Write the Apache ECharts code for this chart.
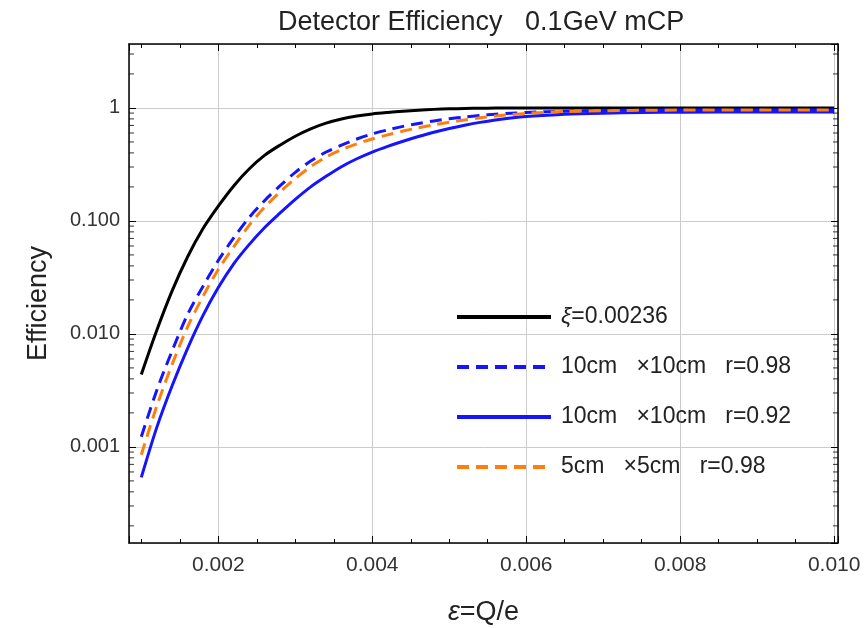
<!DOCTYPE html>
<html>
<head>
<meta charset="utf-8">
<title>Detector Efficiency</title>
<script src="https://cdn.jsdelivr.net/npm/echarts@6/dist/echarts.min.js"></script>
<style>
  html, body { margin: 0; padding: 0; background: #fff; }
  #chart { width: 867px; height: 628px; }
</style>
</head>
<body>
<div id="chart"></div>
<script>
  // epsilon = Q/e
  const epsilon = [0.0010, 0.0012, 0.0014, 0.0016, 0.0018, 0.0020, 0.0022, 0.0024, 0.0026, 0.0028,
    0.0030, 0.0032, 0.0034, 0.0036, 0.0038, 0.0040, 0.0042, 0.0044, 0.0046, 0.0048,
    0.0050, 0.0052, 0.0054, 0.0056, 0.0058, 0.0060,
    0.0065, 0.0070, 0.0075, 0.0080, 0.0090, 0.0100]

  // efficiency
  const effXi = [0.00437, 0.0107, 0.0240, 0.0479, 0.0851, 0.135, 0.204, 0.288, 0.380, 0.468,
    0.562, 0.653, 0.733, 0.798, 0.847, 0.885, 0.912, 0.935, 0.955, 0.971,
    0.982, 0.989, 0.993, 0.997, 0.999, 1.0,
    1.0, 1.0, 1.0, 1.0, 1.0, 1.0]
  const eff10r98 = [0.00123, 0.00316, 0.00708, 0.0148, 0.0263, 0.0447, 0.0708, 0.107, 0.151, 0.204,
    0.269, 0.339, 0.407, 0.468, 0.531, 0.589, 0.638, 0.687, 0.729, 0.767,
    0.802, 0.832, 0.857, 0.879, 0.897, 0.912,
    0.935, 0.948, 0.955, 0.957, 0.959, 0.959]
  const eff10r92 = [0.000537, 0.00148, 0.00347, 0.00741, 0.0145, 0.0257, 0.0417, 0.0617, 0.0871, 0.117,
    0.155, 0.200, 0.248, 0.302, 0.355, 0.407, 0.457, 0.507, 0.558, 0.610,
    0.658, 0.703, 0.745, 0.782, 0.813, 0.838,
    0.879, 0.899, 0.910, 0.916, 0.920, 0.920]
  const eff5r98 = [0.000851, 0.00229, 0.00537, 0.0115, 0.0214, 0.0372, 0.0589, 0.0912, 0.132, 0.180,
    0.237, 0.302, 0.367, 0.427, 0.481, 0.531, 0.578, 0.624, 0.667, 0.708,
    0.746, 0.783, 0.817, 0.847, 0.873, 0.895,
    0.929, 0.944, 0.953, 0.957, 0.959, 0.959]

  const seriesNames = ['ξ=0.00236', '10cm   ×10cm   r=0.98', '10cm   ×10cm   r=0.92', '5cm   ×5cm   r=0.98']

  // log minor ticks (2..9 x 10^k) for the left and right frame
  const minorTicksY = [0.0002, 0.0003, 0.0004, 0.0005, 0.0006, 0.0007, 0.0008, 0.0009,
    0.002, 0.003, 0.004, 0.005, 0.006, 0.007, 0.008, 0.009,
    0.02, 0.03, 0.04, 0.05, 0.06, 0.07, 0.08, 0.09,
    0.2, 0.3, 0.4, 0.5, 0.6, 0.7, 0.8, 0.9,
    2, 3]

  const xMin = 0.00084
  const xMax = 0.01005
  const yMin = 0.000141
  const yMax = 3.68

  const font = 'Liberation Sans, Arial, sans-serif'
  const textColor = '#222'

  function pairs(ys) {
    return epsilon.map((x, i) => [x, ys[i]])
  }

  function isDecade(v) {
    const l = Math.log10(v)
    return Math.abs(l - Math.round(l)) < 1e-6
  }

  // shared frame settings, ticks drawn inside like the original
  const frameX = {
    type: 'value',
    min: xMin,
    max: xMax,
    splitNumber: 5,
    axisLine: { show: true, onZero: false, lineStyle: { color: '#000', width: 1.5 } },
    axisTick: { show: true, inside: true, length: 7, lineStyle: { color: '#000' } },
    minorTick: { show: true, splitNumber: 4, length: 4, lineStyle: { color: '#000' } }
  }
  const frameY = {
    type: 'log',
    logBase: 10,
    min: yMin,
    max: yMax,
    splitNumber: 5,
    axisLine: { show: true, onZero: false, lineStyle: { color: '#000', width: 1.5 } },
    axisTick: { show: true, inside: true, length: 7, lineStyle: { color: '#000' } }
  }

  // short horizontal dash used as a minor tick mark
  function minorTickSeries(x, offset) {
    return {
      type: 'scatter',
      silent: true,
      clip: false,
      symbol: 'rect',
      symbolSize: [5, 1],
      symbolOffset: [offset, 0],
      itemStyle: { color: '#000' },
      data: minorTicksY.map(v => [x, v]),
      z: 3
    }
  }

  const chart = echarts.init(document.getElementById('chart'))

  chart.setOption({
    animation: false,
    backgroundColor: '#fff',
    title: {
      text: 'Detector Efficiency   0.1GeV mCP',
      left: 273,
      top: 4,
      textStyle: { fontFamily: font, fontSize: 27, fontWeight: 'normal', color: textColor }
    },
    legend: {
      orient: 'vertical',
      left: 450,
      top: 299,
      itemWidth: 94,
      itemHeight: 14,
      itemGap: 24,
      data: seriesNames,
      itemStyle: { opacity: 0 },
      lineStyle: { width: 4 },
      formatter: function (name) {
        return name.charAt(0) === 'ξ' ? '{i|ξ}' + name.slice(1) : name
      },
      textStyle: {
        fontFamily: font,
        fontSize: 23,
        color: textColor,
        lineHeight: 26,
        padding: [0, 0, 0, 5],
        rich: { i: { fontStyle: 'italic', fontFamily: font, fontSize: 23, color: textColor } }
      }
    },
    grid: {
      left: 129,
      right: 29,
      top: 44,
      bottom: 85,
      containLabel: false,
      outerBoundsMode: 'none'
    },
    xAxis: [
      Object.assign({}, frameX, {
        position: 'bottom',
        name: '{i|ε}=Q/e',
        nameLocation: 'middle',
        nameGap: 56,
        nameTextStyle: {
          fontFamily: font, fontSize: 27, color: textColor,
          rich: { i: { fontStyle: 'italic', fontFamily: font, fontSize: 27, color: textColor } }
        },
        axisLabel: {
          margin: 12,
          showMinLabel: false,
          showMaxLabel: false,
          fontFamily: font,
          fontSize: 21,
          color: '#333',
          formatter: function (v) { return v.toFixed(3) }
        },
        splitLine: { show: true, lineStyle: { color: '#ccc', width: 1 } }
      }),
      Object.assign({}, frameX, {
        position: 'top',
        axisLabel: { show: false },
        splitLine: { show: false }
      })
    ],
    yAxis: [
      Object.assign({}, frameY, {
        position: 'left',
        name: 'Efficiency',
        nameLocation: 'middle',
        nameGap: 77,
        nameTextStyle: { fontFamily: font, fontSize: 27, color: textColor, padding: [0, 20, 0, 0] },
        axisLabel: {
          margin: 9,
          showMinLabel: false,
          showMaxLabel: false,
          fontFamily: font,
          fontSize: 20,
          color: '#333',
          formatter: function (v) {
            if (!isDecade(v)) return ''
            return v >= 1 ? '1' : v.toFixed(3)
          }
        },
        splitLine: { show: true, lineStyle: { color: '#ccc', width: 1 } }
      }),
      Object.assign({}, frameY, {
        position: 'right',
        axisLabel: { show: false },
        splitLine: { show: false }
      })
    ],
    series: [{
      name: seriesNames[0],
      type: 'line',
      symbol: 'none',
      smooth: 0.3,
      data: pairs(effXi),
      lineStyle: { color: '#000', width: 3 },
      itemStyle: { color: '#000' }
    }, {
      name: seriesNames[1],
      type: 'line',
      symbol: 'none',
      smooth: 0.3,
      data: pairs(eff10r98),
      lineStyle: { color: '#1414ff', width: 3, type: [12, 7] },
      itemStyle: { color: '#1414ff' }
    }, {
      name: seriesNames[2],
      type: 'line',
      symbol: 'none',
      smooth: 0.3,
      data: pairs(eff10r92),
      lineStyle: { color: '#1414ff', width: 3 },
      itemStyle: { color: '#1414ff' }
    }, {
      name: seriesNames[3],
      type: 'line',
      symbol: 'none',
      smooth: 0.3,
      data: pairs(eff5r98),
      lineStyle: { color: '#ff7f0e', width: 3, type: [12, 7] },
      itemStyle: { color: '#ff7f0e' }
    },
    minorTickSeries(xMin, 2.5),
    minorTickSeries(xMax, -2.5)
    ]
  })
</script>
</body>
</html>
